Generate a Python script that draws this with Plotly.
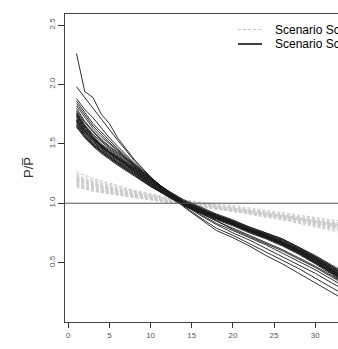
import plotly.graph_objects as go

x_vals = [1, 2, 3, 4, 5, 6, 8, 10, 12, 14, 16, 18, 20, 22, 24, 26, 28, 30, 32, 34]

black_band = [
    [1.80,1.69,1.61,1.54,1.48,1.43,1.33,1.21,1.10,1.01,0.95,0.89,0.84,0.78,0.73,0.68,0.61,0.54,0.45,0.36],
    [1.78,1.68,1.60,1.53,1.47,1.42,1.32,1.21,1.11,1.03,0.97,0.91,0.86,0.80,0.75,0.70,0.63,0.56,0.48,0.40],
    [1.77,1.66,1.58,1.52,1.46,1.41,1.31,1.20,1.11,1.02,0.96,0.90,0.85,0.79,0.74,0.69,0.62,0.55,0.47,0.38],
    [1.75,1.65,1.57,1.50,1.45,1.40,1.30,1.20,1.10,1.01,0.95,0.90,0.84,0.78,0.74,0.68,0.61,0.54,0.46,0.37],
    [1.74,1.63,1.56,1.49,1.44,1.39,1.29,1.19,1.10,1.01,0.95,0.89,0.84,0.78,0.73,0.67,0.60,0.53,0.45,0.36],
    [1.73,1.63,1.55,1.49,1.43,1.38,1.29,1.18,1.09,1.00,0.94,0.89,0.83,0.78,0.73,0.67,0.61,0.53,0.44,0.35],
    [1.72,1.62,1.54,1.48,1.43,1.38,1.28,1.18,1.09,1.00,0.94,0.89,0.83,0.77,0.72,0.67,0.60,0.52,0.44,0.35],
    [1.71,1.61,1.54,1.47,1.42,1.37,1.28,1.18,1.09,1.00,0.94,0.89,0.84,0.78,0.72,0.66,0.59,0.52,0.43,0.34],
    [1.70,1.60,1.53,1.47,1.42,1.37,1.27,1.17,1.08,1.00,0.94,0.88,0.83,0.77,0.72,0.66,0.60,0.52,0.44,0.35],
    [1.69,1.60,1.52,1.46,1.41,1.36,1.27,1.17,1.08,0.99,0.93,0.88,0.83,0.77,0.72,0.67,0.60,0.52,0.43,0.34],
    [1.69,1.59,1.52,1.46,1.40,1.35,1.26,1.16,1.08,0.99,0.94,0.88,0.83,0.78,0.73,0.67,0.61,0.53,0.45,0.36],
    [1.68,1.58,1.51,1.45,1.40,1.35,1.26,1.16,1.07,0.99,0.93,0.87,0.82,0.76,0.71,0.65,0.58,0.50,0.42,0.33],
    [1.67,1.58,1.50,1.44,1.39,1.34,1.25,1.16,1.07,0.99,0.93,0.88,0.83,0.77,0.72,0.66,0.59,0.51,0.42,0.33],
    [1.66,1.57,1.50,1.44,1.39,1.34,1.25,1.15,1.07,0.99,0.93,0.87,0.82,0.76,0.71,0.65,0.58,0.50,0.41,0.32],
    [1.66,1.56,1.49,1.43,1.38,1.33,1.24,1.15,1.06,0.98,0.92,0.87,0.82,0.76,0.71,0.65,0.58,0.50,0.41,0.32],
    [1.65,1.56,1.49,1.43,1.38,1.33,1.24,1.14,1.06,0.98,0.92,0.86,0.81,0.75,0.70,0.64,0.57,0.49,0.40,0.31],
    [1.64,1.55,1.48,1.42,1.37,1.32,1.23,1.14,1.07,0.99,0.93,0.87,0.82,0.76,0.71,0.65,0.58,0.50,0.42,0.33],
    [1.74,1.64,1.55,1.48,1.42,1.37,1.29,1.19,1.10,1.02,0.96,0.90,0.85,0.80,0.75,0.70,0.63,0.55,0.47,0.39],
    [1.70,1.61,1.54,1.48,1.43,1.39,1.30,1.20,1.11,1.01,0.95,0.90,0.85,0.79,0.74,0.69,0.62,0.55,0.46,0.38],
    [1.76,1.65,1.56,1.49,1.43,1.38,1.27,1.17,1.07,0.99,0.93,0.88,0.82,0.77,0.72,0.66,0.59,0.51,0.43,0.34],
]

black_outliers = [
    [2.26,1.94,1.89,1.75,1.67,1.55,1.37,1.22,1.10,0.97,0.87,0.77,0.71,0.64,0.56,0.49,0.41,0.33,0.25,0.17],
    [1.98,1.89,1.80,1.70,1.61,1.53,1.36,1.22,1.09,0.98,0.88,0.79,0.73,0.66,0.59,0.52,0.45,0.37,0.29,0.21],
    [1.88,1.79,1.72,1.63,1.55,1.48,1.34,1.22,1.10,0.99,0.90,0.82,0.75,0.69,0.62,0.55,0.48,0.41,0.33,0.25],
    [1.86,1.76,1.67,1.60,1.53,1.46,1.33,1.21,1.10,0.99,0.91,0.83,0.77,0.71,0.65,0.58,0.51,0.44,0.36,0.28],
    [1.84,1.74,1.65,1.58,1.51,1.45,1.32,1.20,1.09,1.00,0.92,0.85,0.78,0.72,0.66,0.60,0.53,0.46,0.38,0.30],
    [1.82,1.72,1.63,1.56,1.50,1.44,1.31,1.20,1.09,1.00,0.92,0.85,0.79,0.73,0.67,0.61,0.54,0.47,0.39,0.31],
]

gray_band = [
    [1.27,1.23,1.20,1.18,1.16,1.14,1.10,1.07,1.04,1.02,1.00,0.98,0.96,0.94,0.92,0.90,0.88,0.85,0.83,0.80],
    [1.25,1.24,1.21,1.19,1.17,1.15,1.11,1.08,1.05,1.03,1.01,0.99,0.98,0.96,0.94,0.92,0.90,0.88,0.86,0.84],
    [1.24,1.21,1.19,1.17,1.15,1.13,1.10,1.07,1.04,1.02,1.00,0.98,0.97,0.95,0.93,0.91,0.89,0.87,0.85,0.82],
    [1.23,1.20,1.18,1.16,1.14,1.12,1.09,1.06,1.04,1.02,1.00,0.98,0.96,0.94,0.92,0.90,0.87,0.85,0.82,0.79],
    [1.22,1.20,1.17,1.15,1.14,1.12,1.09,1.06,1.03,1.01,0.99,0.97,0.96,0.94,0.92,0.90,0.88,0.86,0.84,0.81],
    [1.21,1.19,1.17,1.15,1.13,1.12,1.08,1.06,1.03,1.01,0.99,0.97,0.95,0.93,0.91,0.89,0.86,0.84,0.81,0.78],
    [1.20,1.18,1.16,1.14,1.13,1.11,1.08,1.05,1.03,1.01,0.99,0.97,0.95,0.93,0.91,0.89,0.87,0.85,0.83,0.80],
    [1.20,1.17,1.15,1.14,1.12,1.11,1.08,1.05,1.03,1.01,0.99,0.97,0.95,0.93,0.90,0.88,0.86,0.83,0.80,0.77],
    [1.19,1.17,1.15,1.13,1.12,1.10,1.07,1.05,1.02,1.00,0.98,0.96,0.94,0.92,0.90,0.88,0.86,0.84,0.82,0.79],
    [1.18,1.16,1.14,1.13,1.11,1.10,1.07,1.05,1.02,1.00,0.98,0.96,0.95,0.93,0.91,0.89,0.87,0.85,0.83,0.81],
    [1.18,1.15,1.14,1.12,1.11,1.09,1.07,1.04,1.02,1.00,0.98,0.96,0.94,0.92,0.89,0.87,0.84,0.82,0.79,0.76],
    [1.17,1.15,1.13,1.12,1.10,1.09,1.06,1.04,1.02,1.00,0.98,0.96,0.94,0.92,0.90,0.88,0.85,0.83,0.81,0.78],
    [1.16,1.14,1.13,1.11,1.10,1.08,1.06,1.04,1.02,1.00,0.98,0.96,0.94,0.92,0.90,0.88,0.86,0.84,0.82,0.80],
    [1.16,1.14,1.12,1.11,1.09,1.08,1.06,1.04,1.01,0.99,0.97,0.95,0.93,0.91,0.89,0.87,0.84,0.81,0.78,0.75],
    [1.15,1.13,1.12,1.10,1.09,1.08,1.06,1.03,1.01,0.99,0.97,0.96,0.94,0.92,0.90,0.88,0.85,0.82,0.80,0.77],
    [1.15,1.13,1.11,1.10,1.09,1.07,1.05,1.03,1.01,0.99,0.97,0.95,0.93,0.91,0.88,0.86,0.83,0.80,0.77,0.74],
    [1.14,1.12,1.11,1.09,1.08,1.07,1.05,1.03,1.01,0.99,0.97,0.95,0.94,0.92,0.90,0.88,0.86,0.83,0.81,0.78],
    [1.14,1.12,1.10,1.09,1.08,1.07,1.05,1.03,1.01,0.99,0.98,0.96,0.94,0.92,0.91,0.89,0.87,0.85,0.83,0.81],
    [1.21,1.19,1.16,1.14,1.12,1.10,1.07,1.05,1.03,1.01,0.99,0.97,0.95,0.93,0.91,0.89,0.87,0.85,0.83,0.80],
    [1.19,1.18,1.16,1.14,1.13,1.11,1.08,1.06,1.03,1.01,0.99,0.97,0.95,0.93,0.91,0.89,0.87,0.84,0.82,0.79],
]

legend_labels = ["Scenario Sc", "Scenario Sc"]
x_ticks = [0, 5, 10, 15, 20, 25, 30]
y_ticks = [0.5, 1.0, 1.5, 2.0, 2.5]
ref_level = 1.0

W, H = 338, 349
ML, MR, MT, MB = 65, 0, 14, 27

fig = go.Figure()

for ys in gray_band:
    fig.add_trace(go.Scatter(x=x_vals, y=ys, mode="lines",
                             line=dict(color="#cccccc", width=1, dash="3px,2px"),
                             showlegend=False, hoverinfo="skip"))

fig.add_hline(y=ref_level, line=dict(color="#555555", width=1))

for ys in black_band + black_outliers:
    fig.add_trace(go.Scatter(x=x_vals, y=ys, mode="lines",
                             line=dict(color="#1a1a1a", width=0.9),
                             showlegend=False, hoverinfo="skip"))

pw = W - ML - MR
ph = H - MT - MB
def px(p):
    return (p - ML) / pw
def py(p):
    return (H - MB - p) / ph

leg_rows = [29.5, 44.0]
leg_styles = [dict(color="#c4c4c4", width=1, dash="3px,2px"), dict(color="#000000", width=1.5)]
for yy, st, lab in zip(leg_rows, leg_styles, legend_labels):
    fig.add_shape(type="line", xref="paper", yref="paper",
                  x0=px(238), x1=px(262), y0=py(yy), y1=py(yy), line=st)
    fig.add_annotation(xref="paper", yref="paper", x=px(273), y=py(yy),
                       xanchor="left", yanchor="middle", text=lab, showarrow=False,
                       font=dict(family="Liberation Sans, Arial", size=12, color="#000000"))

fig.add_annotation(xref="paper", yref="paper", x=px(28), y=py(168),
                   xanchor="center", yanchor="middle", text="P/P\u0305", textangle=-90,
                   showarrow=False,
                   font=dict(family="Liberation Sans, Arial", size=13, color="#333333"))

fig.update_layout(
    width=W, height=H,
    margin=dict(l=ML, r=MR, t=MT, b=MB, pad=0),
    paper_bgcolor="white", plot_bgcolor="white",
    showlegend=False,
    font=dict(family="Liberation Sans, Arial", size=8, color="#555555"),
)
fig.update_xaxes(range=[-0.40, 32.77], tickvals=x_ticks, ticks="outside", ticklen=5,
                 tickcolor="#333333", tickwidth=1, showgrid=False, zeroline=False,
                 showline=True, linecolor="#444444", linewidth=1, mirror=True,
                 tickfont=dict(size=8, color="#555555"))
fig.update_yaxes(range=[0.0, 2.593], tickvals=y_ticks, ticktext=["0.5", "1.0", "1.5", "2.0", "2.5"],
                 ticks="outside", ticklen=6, tickangle=-90,
                 tickcolor="#333333", tickwidth=1, showgrid=False, zeroline=False,
                 showline=True, linecolor="#444444", linewidth=1,
                 tickfont=dict(size=8, color="#555555"))

fig.write_html("out.html")
